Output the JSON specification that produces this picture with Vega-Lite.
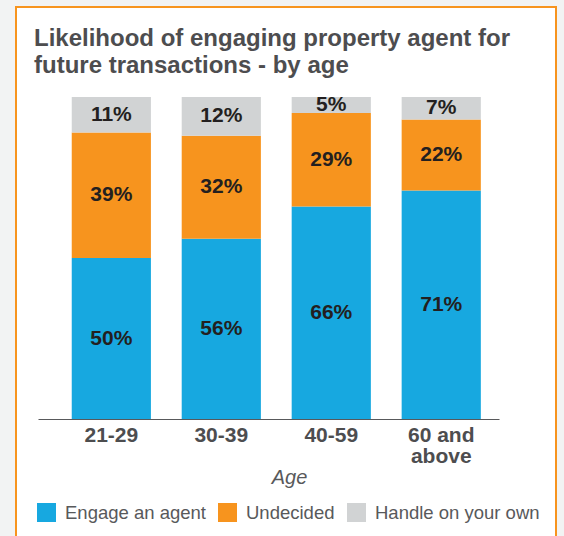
{
  "$schema": "https://vega.github.io/schema/vega-lite/v6.json",
  "autosize": {"type": "none"},
  "padding": {"left": 16, "top": 7, "right": 8, "bottom": 0},
  "width": 540,
  "height": 540,
  "background": "#f2f3f3",
  "title": {
    "text": ["Likelihood of engaging property agent for", "future transactions - by age"],
    "anchor": "start",
    "frame": "group",
    "baseline": "top",
    "offset": -71,
    "dx": 18,
    "font": "Liberation Sans",
    "fontSize": 24,
    "fontWeight": "bold",
    "color": "#4d4d4f",
    "lineHeight": 27
  },
  "data": {
    "values": [
      {"age": "21-29", "segment": "Engage an agent", "k": 1, "v": 50, "label": "50%"},
      {"age": "21-29", "segment": "Undecided", "k": 2, "v": 39, "label": "39%"},
      {"age": "21-29", "segment": "Handle on your own", "k": 3, "v": 11, "label": "11%"},
      {"age": "30-39", "segment": "Engage an agent", "k": 1, "v": 56, "label": "56%"},
      {"age": "30-39", "segment": "Undecided", "k": 2, "v": 32, "label": "32%"},
      {"age": "30-39", "segment": "Handle on your own", "k": 3, "v": 12, "label": "12%"},
      {"age": "40-59", "segment": "Engage an agent", "k": 1, "v": 66, "label": "66%"},
      {"age": "40-59", "segment": "Undecided", "k": 2, "v": 29, "label": "29%"},
      {"age": "40-59", "segment": "Handle on your own", "k": 3, "v": 5, "label": "5%"},
      {"age": "60 and above", "segment": "Engage an agent", "k": 1, "v": 71, "label": "71%"},
      {"age": "60 and above", "segment": "Undecided", "k": 2, "v": 22, "label": "22%"},
      {"age": "60 and above", "segment": "Handle on your own", "k": 3, "v": 7, "label": "7%"}
    ]
  },
  "encoding": {
    "x": {
      "field": "age",
      "type": "nominal",
      "sort": null,
      "scale": {"range": [22, 483], "paddingInner": 0.28, "paddingOuter": 0.236, "align": 0.65},
      "axis": {
        "title": "Age",
        "labelAngle": 0,
        "offset": -128,
        "ticks": false,
        "grid": false,
        "domainColor": "#58595b",
        "domainWidth": 1.2,
        "labelFont": "Liberation Sans",
        "labelFontSize": 21,
        "labelFontWeight": "bold",
        "labelColor": "#4d4d4f",
        "labelPadding": 5,
        "labelLineHeight": 21,
        "labelExpr": "datum.label == '60 and above' ? ['60 and', 'above'] : datum.label",
        "titleFont": "Liberation Sans",
        "titleFontSize": 20,
        "titleFontStyle": "italic",
        "titleFontWeight": "normal",
        "titleColor": "#58595b",
        "titleX": 273,
        "titleY": 64,
        "titleBaseline": "alphabetic"
      }
    },
    "y": {
      "field": "v",
      "type": "quantitative",
      "stack": "zero",
      "scale": {"domain": [0, 100], "range": [412, 90], "nice": false, "zero": true},
      "axis": null
    },
    "order": {"field": "k", "type": "quantitative", "sort": "ascending"}
  },
  "layer": [
    {
      "mark": {"type": "bar"},
      "encoding": {
        "color": {
          "field": "segment",
          "type": "nominal",
          "scale": {
            "domain": ["Engage an agent", "Undecided", "Handle on your own"],
            "range": ["#17a8e0", "#f7941e", "#d1d3d4"]
          },
          "legend": {
            "title": null,
            "orient": "none",
            "direction": "horizontal",
            "columns": 3,
            "legendX": 21,
            "legendY": 496,
            "symbolType": "square",
            "symbolSize": 361,
            "symbolStrokeWidth": 0,
            "symbolOpacity": 1,
            "labelFont": "Liberation Sans",
            "labelFontSize": 18.5,
            "labelColor": "#58595b",
            "labelOffset": 9,
            "columnPadding": 12,
            "labelLimit": 300
          }
        }
      }
    },
    {
      "mark": {
        "type": "text",
        "font": "Liberation Sans",
        "fontSize": 21,
        "fontWeight": "bold",
        "color": "#231f20",
        "baseline": "middle"
      },
      "encoding": {
        "y": {"field": "v", "type": "quantitative", "stack": "zero", "bandPosition": 0.5},
        "text": {"field": "label", "type": "nominal"},
        "detail": {"field": "segment"}
      }
    }
  ],
  "config": {
    "view": {"fill": "white", "stroke": "#f7941e", "strokeWidth": 2}
  }
}
